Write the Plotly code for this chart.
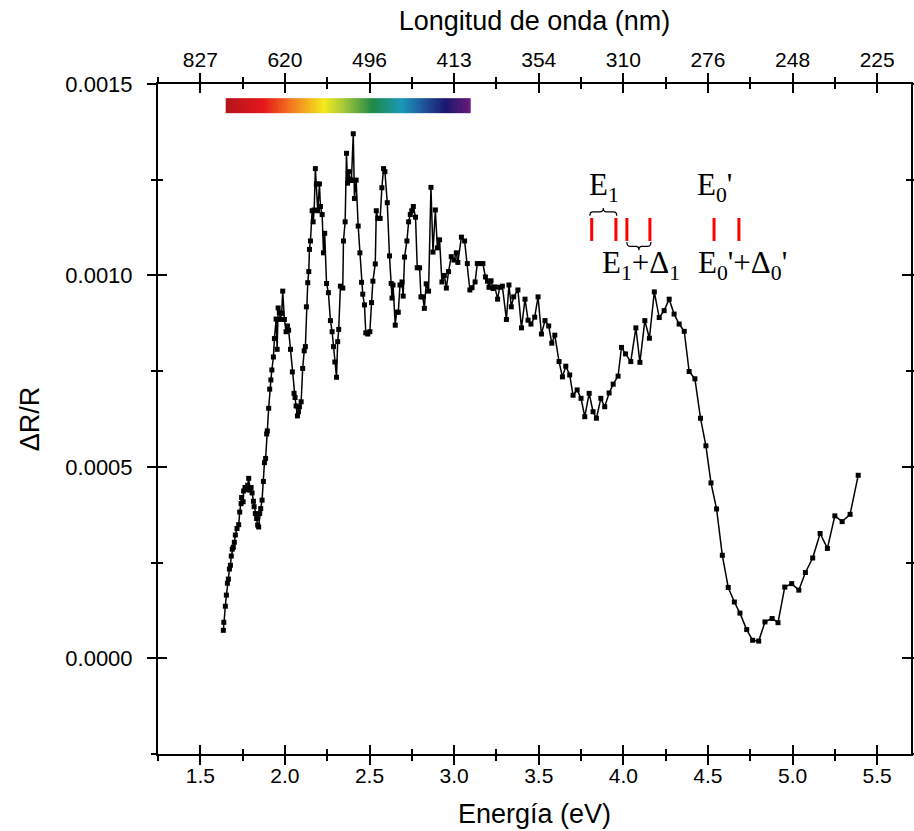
import numpy as np
import plotly.graph_objects as go

# ---------------- data ----------------
energy_eV = [1.636, 1.639, 1.648, 1.654, 1.660, 1.666, 1.672, 1.678, 1.683, 1.689, 1.695, 1.701, 1.707, 1.717, 1.727,
             1.733, 1.741, 1.744, 1.753, 1.756, 1.764, 1.772, 1.780, 1.786, 1.792, 1.800, 1.806, 1.814, 1.818, 1.825,
             1.833, 1.839, 1.845, 1.851, 1.857, 1.865, 1.873, 1.879, 1.886, 1.892, 1.896, 1.904, 1.910, 1.917, 1.923,
             1.932, 1.938, 1.948, 1.954, 1.960, 1.967, 1.973, 1.981, 1.987, 1.997, 2.007, 2.015, 2.022, 2.033, 2.044,
             2.054, 2.060, 2.066, 2.074, 2.080, 2.086, 2.096, 2.105, 2.114, 2.121, 2.127, 2.135, 2.141, 2.145, 2.151,
             2.161, 2.167, 2.173, 2.180, 2.186, 2.194, 2.204, 2.210, 2.220, 2.228, 2.235, 2.246, 2.257, 2.269, 2.279,
             2.287, 2.295, 2.305, 2.312, 2.318, 2.328, 2.342, 2.346, 2.356, 2.364, 2.370, 2.377, 2.386, 2.393, 2.404,
             2.411, 2.421, 2.433, 2.443, 2.453, 2.460, 2.470, 2.478, 2.490, 2.502, 2.512, 2.520, 2.534, 2.540, 2.549,
             2.563, 2.573, 2.583, 2.591, 2.605, 2.618, 2.628, 2.633, 2.639, 2.652, 2.660, 2.670, 2.680, 2.692, 2.699,
             2.707, 2.721, 2.731, 2.741, 2.750, 2.759, 2.772, 2.782, 2.796, 2.804, 2.815, 2.824, 2.835, 2.849, 2.863,
             2.875, 2.889, 2.901, 2.914, 2.928, 2.942, 2.954, 2.967, 2.983, 2.999, 3.013, 3.022, 3.043, 3.062, 3.078,
             3.093, 3.106, 3.124, 3.137, 3.154, 3.170, 3.185, 3.197, 3.206, 3.218, 3.230, 3.241, 3.257, 3.269, 3.285,
             3.309, 3.324, 3.338, 3.352, 3.377, 3.398, 3.419, 3.437, 3.454, 3.476, 3.496, 3.516, 3.537, 3.559, 3.577,
             3.595, 3.620, 3.640, 3.660, 3.683, 3.703, 3.727, 3.750, 3.772, 3.798, 3.821, 3.841, 3.867, 3.890, 3.916,
             3.940, 3.969, 3.989, 4.013, 4.044, 4.074, 4.098, 4.127, 4.154, 4.183, 4.212, 4.241, 4.271, 4.300, 4.330,
             4.360, 4.389, 4.423, 4.456, 4.488, 4.518, 4.551, 4.585, 4.620, 4.656, 4.689, 4.729, 4.764, 4.800, 4.837,
             4.879, 4.914, 4.954, 4.995, 5.037, 5.076, 5.119, 5.163, 5.206, 5.250, 5.293, 5.340, 5.388]

# ΔR/R in units of 1e-4
dRR_e4 = [0.73, 0.94, 1.36, 1.65, 1.96, 2.07, 2.33, 2.43, 2.67, 2.85, 2.90, 3.03, 3.22, 3.39, 3.49,
          3.82, 4.04, 4.20, 4.09, 4.37, 4.46, 4.41, 4.52, 4.70, 4.39, 4.46, 4.32, 4.10, 3.96, 3.78,
          3.65, 3.48, 3.43, 3.78, 3.91, 4.13, 4.62, 5.11, 5.22, 5.86, 5.94, 6.53, 7.03, 7.27, 7.53,
          7.87, 8.35, 8.86, 8.07, 9.15, 9.03, 8.85, 9.01, 9.59, 8.85, 8.53, 8.68, 8.57, 8.07, 7.48,
          6.92, 6.81, 6.59, 6.33, 6.44, 6.57, 6.70, 7.57, 8.03, 8.14, 9.18, 9.81, 10.10, 10.68, 10.90,
          11.69, 11.40, 11.71, 12.79, 12.39, 11.69, 12.39, 11.80, 11.59, 10.59, 11.10, 9.79, 9.55, 8.82, 8.53,
          8.14, 7.74, 7.34, 8.27, 8.59, 9.72, 9.67, 10.90, 11.40, 13.19, 12.41, 12.71, 12.51, 12.48, 13.70,
          12.01, 12.49, 11.29, 10.59, 9.82, 9.51, 9.23, 8.50, 8.47, 8.53, 9.29, 9.85, 10.30, 11.69, 11.49,
          11.49, 12.29, 12.79, 12.71, 11.90, 10.51, 9.79, 9.41, 9.75, 8.70, 9.04, 9.04, 9.75, 9.83, 9.46,
          10.48, 10.90, 11.40, 11.59, 11.69, 11.80, 11.52, 10.20, 10.20, 9.44, 9.44, 9.14, 9.78, 9.59, 12.30,
          10.61, 11.71, 10.72, 10.93, 9.83, 10.00, 9.67, 10.10, 10.49, 10.40, 10.59, 10.34, 11.00, 10.90, 10.31,
          9.62, 9.68, 9.83, 10.31, 10.31, 10.31, 9.96, 9.85, 9.69, 9.86, 9.66, 9.70, 9.38, 9.69, 9.72,
          8.85, 9.75, 9.18, 9.44, 9.62, 8.63, 9.38, 8.83, 8.73, 8.91, 9.44, 8.47, 8.82, 8.68, 8.23,
          8.44, 7.75, 7.35, 7.63, 7.40, 6.87, 7.01, 6.79, 6.31, 6.92, 6.44, 6.27, 6.79, 6.57, 6.93,
          7.16, 7.37, 8.12, 7.95, 7.75, 8.63, 7.73, 8.82, 8.36, 9.57, 8.90, 9.08, 9.38, 8.99, 8.73,
          8.54, 7.49, 7.30, 6.27, 5.55, 4.58, 3.90, 2.69, 1.85, 1.47, 1.18, 0.75, 0.47, 0.45, 0.95,
          1.04, 0.93, 1.86, 1.95, 1.78, 2.24, 2.62, 3.26, 2.87, 3.72, 3.57, 3.76, 4.78]
dRR = [v * 1e-4 for v in dRR_e4]

energy_ticks = [1.5, 2.0, 2.5, 3.0, 3.5, 4.0, 4.5, 5.0, 5.5]
wavelength_labels = ["827", "620", "496", "413", "354", "310", "276", "248", "225"]

# transition markers (red bars)
transition_E = [3.813, 3.956, 4.021, 4.157, 4.536, 4.683]
transition_y = [0.00109, 0.00115]

# visible-spectrum strip
visible_E = [1.65, 3.10]
visible_y = [0.001424, 0.001463]

X_RANGE = [1.25, 5.7]
Y_RANGE = [-0.00025, 0.0015]

SANS = "Liberation Sans, Arial, sans-serif"
SERIF = "Liberation Serif, Times New Roman, serif"

fig = go.Figure()

# rainbow strip
N = 160
edges = np.linspace(visible_E[0], visible_E[1], N + 1)
rainbow = [
    [0.00, "#b3141c"], [0.15, "#e6161b"], [0.27, "#f47b20"], [0.40, "#f4ea1c"],
    [0.48, "#a9c83a"], [0.60, "#1f8a48"], [0.72, "#1b98b8"], [0.80, "#1f5ba0"],
    [0.90, "#1a166e"], [1.00, "#6a1a7a"],
]
fig.add_trace(go.Heatmap(x=edges, y=visible_y, z=[list(range(N))], colorscale=rainbow,
                         showscale=False, hoverinfo="skip"))

# data
fig.add_trace(go.Scatter(x=energy_eV, y=dRR, mode="lines+markers",
                         line=dict(color="black", width=1.5),
                         marker=dict(symbol="square", size=5, color="black"),
                         showlegend=False))

# red transition bars
rx, ry = [], []
for e in transition_E:
    rx += [e, e, None]
    ry += [transition_y[0], transition_y[1], None]
fig.add_trace(go.Scatter(x=rx, y=ry, mode="lines", line=dict(color="#ff0000", width=3),
                         showlegend=False, hoverinfo="skip"))

# dummy traces so overlay axes get drawn
for xa, ya in [("x2", "y"), ("x3", "y"), ("x", "y2"), ("x", "y3")]:
    fig.add_trace(go.Scatter(x=[None], y=[None], xaxis=xa, yaxis=ya, showlegend=False, hoverinfo="skip"))


def brace(x0, x1, yend, ylev, ytip):
    xm = (x0 + x1) / 2
    d = (x1 - x0) * 0.12
    return (f"M {x0},{yend} Q {x0},{ylev} {x0 + d},{ylev} L {xm - d},{ylev} "
            f"Q {xm},{ylev} {xm},{ytip} Q {xm},{ylev} {xm + d},{ylev} L {x1 - d},{ylev} "
            f"Q {x1},{ylev} {x1},{yend}")


shapes = [
    dict(type="path", xref="x", yref="y", path=brace(3.802, 3.961, 0.001156, 0.001166, 0.001176),
         line=dict(color="black", width=1.2)),
    dict(type="path", xref="x", yref="y", path=brace(4.021, 4.163, 0.001087, 0.001076, 0.001066),
         line=dict(color="black", width=1.2)),
]

ann_font = dict(family=SERIF, size=31, color="black")
annotations = [
    dict(x=3.883, y=0.001231, text="E<sub>1</sub>", showarrow=False, font=ann_font, xanchor="center", yanchor="middle"),
    dict(x=4.538, y=0.001231, text="E<sub>0</sub>'", showarrow=False, font=ann_font, xanchor="center", yanchor="middle"),
    dict(x=4.103, y=0.001027, text="E<sub>1</sub>+Δ<sub>1</sub>", showarrow=False, font=ann_font, xanchor="center", yanchor="middle"),
    dict(x=4.704, y=0.001027, text="E<sub>0</sub>'+Δ<sub>0</sub>'", showarrow=False, font=ann_font, xanchor="center", yanchor="middle"),
]

base = dict(showgrid=False, zeroline=False, showline=True, linecolor="black", linewidth=2,
            tickcolor="black", tickwidth=2, ticklen=9)
xminor_out = dict(ticks="outside", dtick=0.25, tick0=1.25, ticklen=5, tickwidth=1.5, tickcolor="black")
xminor_in = dict(ticks="inside", dtick=0.25, tick0=1.25, ticklen=5, tickwidth=1.5, tickcolor="black")
yminor_out = dict(ticks="outside", dtick=0.00025, tick0=0, ticklen=5, tickwidth=1.5, tickcolor="black")
yminor_in = dict(ticks="inside", dtick=0.00025, tick0=0, ticklen=5, tickwidth=1.5, tickcolor="black")

fig.update_layout(
    width=914, height=831,
    margin=dict(l=158, r=3, t=84, b=77),
    paper_bgcolor="white", plot_bgcolor="white",
    showlegend=False,
    shapes=shapes, annotations=annotations,
    xaxis=dict(base, range=X_RANGE, side="bottom", ticks="outside", tickvals=energy_ticks,
               ticktext=[f"{v:.1f}" for v in energy_ticks], minor=xminor_out,
               tickfont=dict(family=SANS, size=21, color="black"), ticklabelstandoff=-7,
               title=dict(text="Energía (eV)", font=dict(family=SANS, size=27, color="black"), standoff=18),
               automargin=False),
    xaxis2=dict(base, range=X_RANGE, overlaying="x", anchor="y", side="top", ticks="outside",
                tickvals=energy_ticks, ticktext=wavelength_labels, minor=xminor_out,
                tickfont=dict(family=SANS, size=21, color="black"), ticklabelstandoff=-2,
                title=dict(text="Longitud de onda (nm)", font=dict(family=SANS, size=27, color="black"), standoff=9),
                automargin=False),
    xaxis3=dict(base, range=X_RANGE, overlaying="x", anchor="y", side="bottom", ticks="inside",
                tickvals=energy_ticks, showticklabels=False, mirror="allticks", minor=xminor_in,
                automargin=False),
    yaxis=dict(base, range=Y_RANGE, side="left", ticks="outside", tick0=0, dtick=0.0005,
               tickformat=".4f", minor=yminor_out,
               tickfont=dict(family=SANS, size=22, color="black"), ticklabelstandoff=10,
               title=dict(text="ΔR/R", font=dict(family=SANS, size=27, color="black"), standoff=18),
               automargin=False),
    yaxis2=dict(base, range=Y_RANGE, overlaying="y", anchor="x", side="left", ticks="inside",
                tick0=0, dtick=0.0005, showticklabels=False, mirror="allticks", minor=yminor_in,
                automargin=False),
    yaxis3=dict(base, range=Y_RANGE, overlaying="y", anchor="x", side="right", ticks="outside",
                tick0=0, dtick=0.0005, showticklabels=False, minor=yminor_out,
                automargin=False),
)

fig.write_html("out.html")
